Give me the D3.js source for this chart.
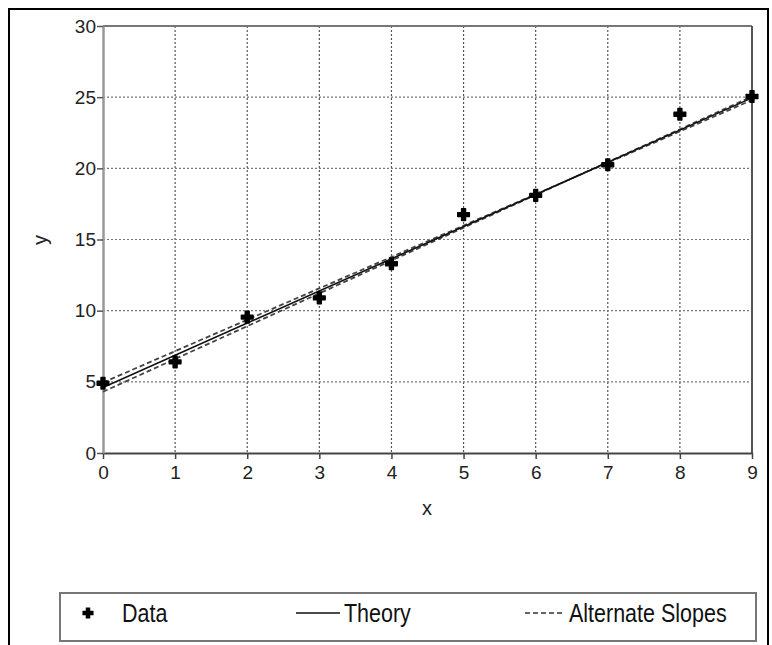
<!DOCTYPE html>
<html>
<head>
<meta charset="utf-8">
<script src="https://cdn.jsdelivr.net/npm/d3@7"></script>
<style>
  html, body { margin: 0; padding: 0; background: #fff; }
  svg { display: block; }
  .tick text { font-family: "Liberation Sans", Arial, sans-serif; }
</style>
</head>
<body>
<svg id="chart" width="772" height="645"></svg>
<script>
// ---- data ----
const xValues = [0, 1, 2, 3, 4, 5, 6, 7, 8, 9];
const dataY = [4.9, 6.4, 9.55, 10.9, 13.3, 16.75, 18.1, 20.25, 23.8, 25.05];
const lineX = [0, 9];
const theoryY = [4.6, 24.95];
const altSlope1Y = [4.3, 25.05];
const altSlope2Y = [4.95, 24.8];
const xTicks = [0, 1, 2, 3, 4, 5, 6, 7, 8, 9];
const yTicks = [0, 5, 10, 15, 20, 25, 30];
const legendLabels = ["Data", "Theory", "Alternate Slopes"];

// ---- layout ----
const svg = d3.select("#chart");
const plot = { left: 103, right: 752, top: 26, bottom: 453 };

const x = d3.scaleLinear().domain([0, 9]).range([plot.left, plot.right]);
const y = d3.scaleLinear().domain([0, 30]).range([plot.bottom, plot.top]);

// outer border
svg.append("rect")
  .attr("x", 9).attr("y", 9).attr("width", 759).attr("height", 645)
  .attr("fill", "none").attr("stroke", "#000").attr("stroke-width", 2);

// grid
const g = svg.append("g");
g.selectAll("line.vgrid").data(xTicks.filter(d => d > 0 && d < 9)).enter()
  .append("line").attr("class", "vgrid")
  .attr("x1", d => x(d)).attr("x2", d => x(d))
  .attr("y1", plot.top).attr("y2", plot.bottom)
  .attr("stroke", "#555").attr("stroke-width", 1.2).attr("stroke-dasharray", "2,2");
g.selectAll("line.hgrid").data(yTicks.filter(d => d > 0 && d < 30)).enter()
  .append("line").attr("class", "hgrid")
  .attr("x1", plot.left).attr("x2", plot.right)
  .attr("y1", d => y(d)).attr("y2", d => y(d))
  .attr("stroke", "#777").attr("stroke-width", 1.2).attr("stroke-dasharray", "2,2");

// frame top & right
g.append("line").attr("x1", plot.left).attr("x2", plot.right)
  .attr("y1", plot.top).attr("y2", plot.top).attr("stroke", "#777").attr("stroke-width", 2);
g.append("line").attr("x1", plot.right).attr("x2", plot.right)
  .attr("y1", plot.top).attr("y2", plot.bottom).attr("stroke", "#555").attr("stroke-width", 2);

// axes
const xAxis = svg.append("g").attr("transform", `translate(0,${plot.bottom})`)
  .call(d3.axisBottom(x).tickValues(xTicks).tickFormat(d3.format("d")).tickSize(6).tickSizeOuter(0));
const yAxis = svg.append("g").attr("transform", `translate(${plot.left},0)`)
  .call(d3.axisLeft(y).tickValues(yTicks).tickFormat(d3.format("d")).tickSize(6).tickSizeOuter(0));
xAxis.select(".domain").attr("stroke", "#444").attr("stroke-width", 2);
yAxis.select(".domain").attr("stroke", "#999").attr("stroke-width", 2.5);
xAxis.selectAll(".tick line").attr("stroke", "#444").attr("stroke-width", 1.5);
yAxis.selectAll(".tick line").attr("stroke", "#555").attr("stroke-width", 1.5);
xAxis.selectAll(".tick text").attr("font-size", 19).attr("fill", "#222").attr("dy", "0.9em");
yAxis.selectAll(".tick text").attr("font-size", 19).attr("fill", "#222").attr("x", -7);

// axis titles
svg.append("text").attr("x", 427).attr("y", 515).attr("text-anchor", "middle")
  .attr("font-family", "Liberation Sans, Arial, sans-serif").attr("font-size", 20).attr("fill", "#222").text("x");
svg.append("text").attr("transform", "translate(47,240) rotate(-90)").attr("text-anchor", "middle")
  .attr("font-family", "Liberation Sans, Arial, sans-serif").attr("font-size", 20).attr("fill", "#222").text("y");

// lines
const line = d3.line().x(d => x(d[0])).y(d => y(d[1]));
[altSlope1Y, altSlope2Y].forEach(arr => {
  svg.append("path").datum(lineX.map((v, i) => [v, arr[i]]))
    .attr("d", line).attr("fill", "none").attr("stroke", "#444")
    .attr("stroke-width", 1.8).attr("stroke-dasharray", "5,3");
});
svg.append("path").datum(lineX.map((v, i) => [v, theoryY[i]]))
  .attr("d", line).attr("fill", "none").attr("stroke", "#111").attr("stroke-width", 1.6);

// data points
const sym = d3.symbol().type(d3.symbolCross).size(75);
svg.selectAll("path.pt").data(xValues.map((v, i) => [v, dataY[i]])).enter()
  .append("path").attr("class", "pt").attr("d", sym)
  .attr("transform", d => `translate(${x(d[0])},${y(d[1])})`)
  .attr("fill", "#000").attr("stroke", "#000").attr("stroke-width", 1.5).attr("stroke-linejoin", "round");

// legend
const lg = svg.append("g");
lg.append("rect").attr("x", 60).attr("y", 593).attr("width", 696).attr("height", 48)
  .attr("fill", "#fff").attr("stroke", "#777").attr("stroke-width", 2);
const ly = 613;
const lf = "Liberation Sans, Arial, sans-serif";
function ltext(xp, txt) {
  lg.append("text").attr("transform", `translate(${xp},${ly + 9}) scale(0.86,1)`)
    .attr("font-family", lf).attr("font-size", 25).attr("fill", "#111").text(txt);
}
lg.append("path").attr("d", d3.symbol().type(d3.symbolCross).size(55))
  .attr("transform", `translate(88,${ly})`).attr("fill", "#000").attr("stroke", "#000").attr("stroke-width", 1.2);
ltext(122, legendLabels[0]);
lg.append("line").attr("x1", 296).attr("x2", 340).attr("y1", ly).attr("y2", ly).attr("stroke", "#111").attr("stroke-width", 1.6);
ltext(344, legendLabels[1]);
lg.append("line").attr("x1", 525).attr("x2", 563).attr("y1", ly).attr("y2", ly).attr("stroke", "#333").attr("stroke-width", 1.6).attr("stroke-dasharray", "5,3");
ltext(569, legendLabels[2]);
</script>
</body>
</html>
